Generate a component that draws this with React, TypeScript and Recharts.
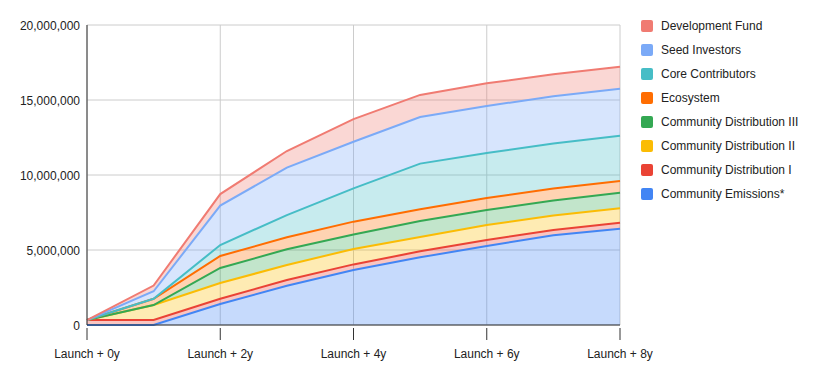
import { AreaChart, Area, XAxis, YAxis, CartesianGrid } from "recharts";

const years = [0, 1, 2, 3, 4, 5, 6, 7, 8];

// token amounts per series, in millions
const communityEmissions = [0, 0, 1.4, 2.62, 3.67, 4.51, 5.27, 5.98, 6.42];
const communityDistI = [0.33, 0.33, 0.35, 0.38, 0.37, 0.4, 0.4, 0.35, 0.4];
const communityDistII = [0, 1.0, 1.05, 1.0, 1.03, 0.96, 1.0, 0.97, 0.96];
const communityDistIII = [0, 0, 1.0, 1.05, 0.97, 1.07, 1.0, 1.0, 1.04];
const ecosystem = [0, 0.42, 0.8, 0.8, 0.85, 0.77, 0.8, 0.8, 0.78];
const coreContributors = [0, 0, 0.73, 1.48, 2.22, 3.05, 3.0, 3.0, 3.02];
const seedInvestors = [0, 0.5, 2.63, 3.16, 3.11, 3.11, 3.13, 3.15, 3.13];
const developmentFund = [0, 0.38, 0.77, 1.11, 1.51, 1.47, 1.51, 1.47, 1.47];

const yTicks = [0, 5000000, 10000000, 15000000, 20000000];
const xTicks = [0, 2, 4, 6, 8];

// bottom of the stack first
const SERIES = [
  { key: "emissions", name: "Community Emissions*", values: communityEmissions, color: "#4285f4" },
  { key: "distI", name: "Community Distribution I", values: communityDistI, color: "#ea4335" },
  { key: "distII", name: "Community Distribution II", values: communityDistII, color: "#fbbc04" },
  { key: "distIII", name: "Community Distribution III", values: communityDistIII, color: "#34a853" },
  { key: "ecosystem", name: "Ecosystem", values: ecosystem, color: "#ff6d01" },
  { key: "core", name: "Core Contributors", values: coreContributors, color: "#46bdc6" },
  { key: "seed", name: "Seed Investors", values: seedInvestors, color: "#7baaf7" },
  { key: "dev", name: "Development Fund", values: developmentFund, color: "#f07b72" },
];

const data = years.map((year, i) => {
  const row: Record<string, number> = { year };
  SERIES.forEach((s) => {
    row[s.key] = s.values[i] * 1000000;
  });
  return row;
});

const FONT = "Arial, 'Liberation Sans', sans-serif";

function XTick({ x, y, payload }: any) {
  return (
    <g>
      <line x1={x} x2={x} y1={y - 5} y2={y + 7} stroke="#333" strokeWidth={1} />
      <text x={x} y={y + 25} textAnchor="middle" fontSize={12} fill="#222" fontFamily={FONT}>
        {`Launch + ${payload.value}y`}
      </text>
    </g>
  );
}

function LegendBox() {
  const items = [...SERIES].reverse();
  return (
    <div
      style={{
        position: "absolute",
        left: 641,
        top: 14,
        width: 180,
        fontFamily: FONT,
        fontSize: 12,
        color: "#222",
      }}
    >
      {items.map((s) => (
        <div key={s.key} style={{ display: "flex", alignItems: "center", height: 24 }}>
          <span
            style={{
              width: 12,
              height: 12,
              background: s.color,
              borderRadius: 2,
              marginRight: 8,
              display: "inline-block",
            }}
          />
          {s.name}
        </div>
      ))}
    </div>
  );
}

export default function App() {
  return (
    <div style={{ position: "absolute", left: 0, top: 0, width: 821, height: 371, background: "#fff" }}>
      <AreaChart
        width={821}
        height={371}
        data={data}
        margin={{ top: 25, right: 201, bottom: 16, left: 0 }}
      >
        <CartesianGrid stroke="#cccccc" />
        <XAxis
          dataKey="year"
          type="number"
          domain={[0, 8]}
          ticks={xTicks}
          height={30}
          axisLine={{ stroke: "#333" }}
          tickLine={false}
          tick={<XTick />}
        />
        <YAxis
          type="number"
          domain={[0, 20000000]}
          ticks={yTicks}
          width={87}
          axisLine={{ stroke: "#333" }}
          tickLine={false}
          tickSize={0}
          tickMargin={7}
          tick={{ fontSize: 12, fill: "#222", fontFamily: FONT, dy: 1 }}
          tickFormatter={(v: number) => v.toLocaleString("en-US")}
        />
        {/* fills first, then the outlines on top so the lines keep their colour */}
        {SERIES.map((s) => (
          <Area
            key={s.key + "-fill"}
            type="linear"
            dataKey={s.key}
            name={s.name}
            stackId="fill"
            stroke="none"
            fill={s.color}
            fillOpacity={0.3}
            dot={false}
            activeDot={false}
            isAnimationActive={false}
          />
        ))}
        {SERIES.map((s) => (
          <Area
            key={s.key + "-line"}
            type="linear"
            dataKey={s.key}
            stackId="line"
            stroke={s.color}
            strokeWidth={2}
            fill="none"
            dot={false}
            activeDot={false}
            isAnimationActive={false}
          />
        ))}
      </AreaChart>
      <LegendBox />
    </div>
  );
}
